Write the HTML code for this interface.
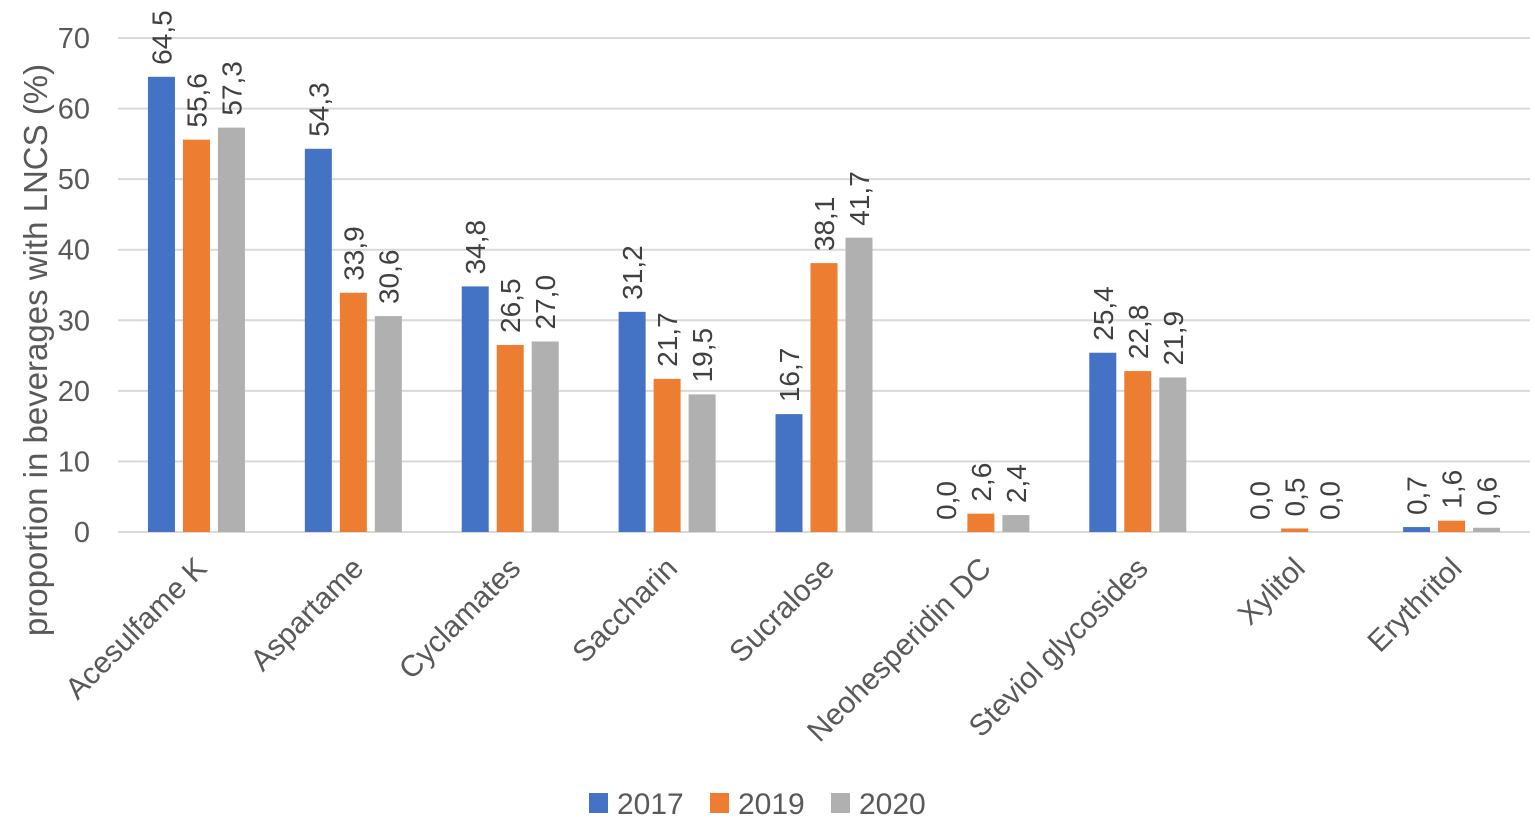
<!DOCTYPE html>
<html><head><meta charset="utf-8"><style>
html,body{margin:0;padding:0;background:#fff;}
svg{display:block;font-family:"Liberation Sans",sans-serif;}
</style></head><body>
<svg id="chart" width="1535" height="821" viewBox="0 0 1535 821">
<g id="grid"></g>
<g id="yticks"></g>
<g id="bars"></g>
<g id="vlabels"></g>
<g id="xlabels"></g>
<text transform="translate(47,350) rotate(-90)" text-anchor="middle" font-size="33" fill="#595959">proportion in beverages with LNCS (%)</text>
<g id="legend"></g>
</svg>
<script>
const categories=["Acesulfame K","Aspartame","Cyclamates","Saccharin","Sucralose","Neohesperidin DC","Steviol glycosides","Xylitol","Erythritol"];
const series2017=[64.5,54.3,34.8,31.2,16.7,0.0,25.4,0.0,0.7];
const series2019=[55.6,33.9,26.5,21.7,38.1,2.6,22.8,0.5,1.6];
const series2020=[57.3,30.6,27.0,19.5,41.7,2.4,21.9,0.0,0.6];
const seriesNames=["2017","2019","2020"];
const yTicks=[0,10,20,30,40,50,60,70];

const colors=["#4472c4","#ed7d31","#b0b0b0"];
const allSeries=[series2017,series2019,series2020];
const NS="http://www.w3.org/2000/svg";
const x0=118,x1=1530,y0=532,yTop=38,yMax=70;
const bandW=(x1-x0)/categories.length;
function yScale(v){return y0-(v/yMax)*(y0-yTop);}
function bandCenter(i){return x0+bandW*(i+0.5);}
function mk(tag,attrs,parent){const e=document.createElementNS(NS,tag);for(const k in attrs)e.setAttribute(k,attrs[k]);parent.appendChild(e);return e;}
const grid=document.getElementById('grid'),yt=document.getElementById('yticks'),bars=document.getElementById('bars'),vl=document.getElementById('vlabels'),xl=document.getElementById('xlabels'),lg=document.getElementById('legend');
yTicks.forEach(t=>{
  const l=mk('line',{x1:x0,x2:x1,y1:yScale(t),y2:yScale(t),stroke:'#d9d9d9','stroke-width':2},grid);
  
  
  const tx=mk('text',{x:90,y:yScale(t)+10,'text-anchor':'end','font-size':29,fill:'#595959'},yt);
  tx.textContent=t;
  
  
});
const barW=27,step=35;
categories.forEach((c,i)=>{
  const cx=bandCenter(i);
  allSeries.forEach((s,j)=>{
    const bx=cx+(j-1)*step;
    const v=s[i];
    const r=mk('rect',{x:bx-barW/2,y:yScale(v),width:barW,height:y0-yScale(v),fill:colors[j]},bars);
    
    
    const t=mk('text',{transform:`translate(${bx+10},${yScale(v)-12}) rotate(-90)`,'font-size':28,fill:'#404040'},vl);
    t.textContent=v.toFixed(1).replace('.',',');
    
    
  });
  const lt=mk('text',{transform:`translate(${cx+12},${570}) rotate(-45)`,'text-anchor':'end','font-size':30,fill:'#595959'},xl);
  lt.textContent=c;
  
  
});
const lx=[589,710,831];
seriesNames.forEach((n,j)=>{
  const r=mk('rect',{x:lx[j],y:793,width:19,height:20,fill:colors[j]},lg);
  
  
  const t=mk('text',{x:lx[j]+28,y:814,'font-size':30,fill:'#595959'},lg);
  t.textContent=n;
  
  
});
</script>
</body></html>
